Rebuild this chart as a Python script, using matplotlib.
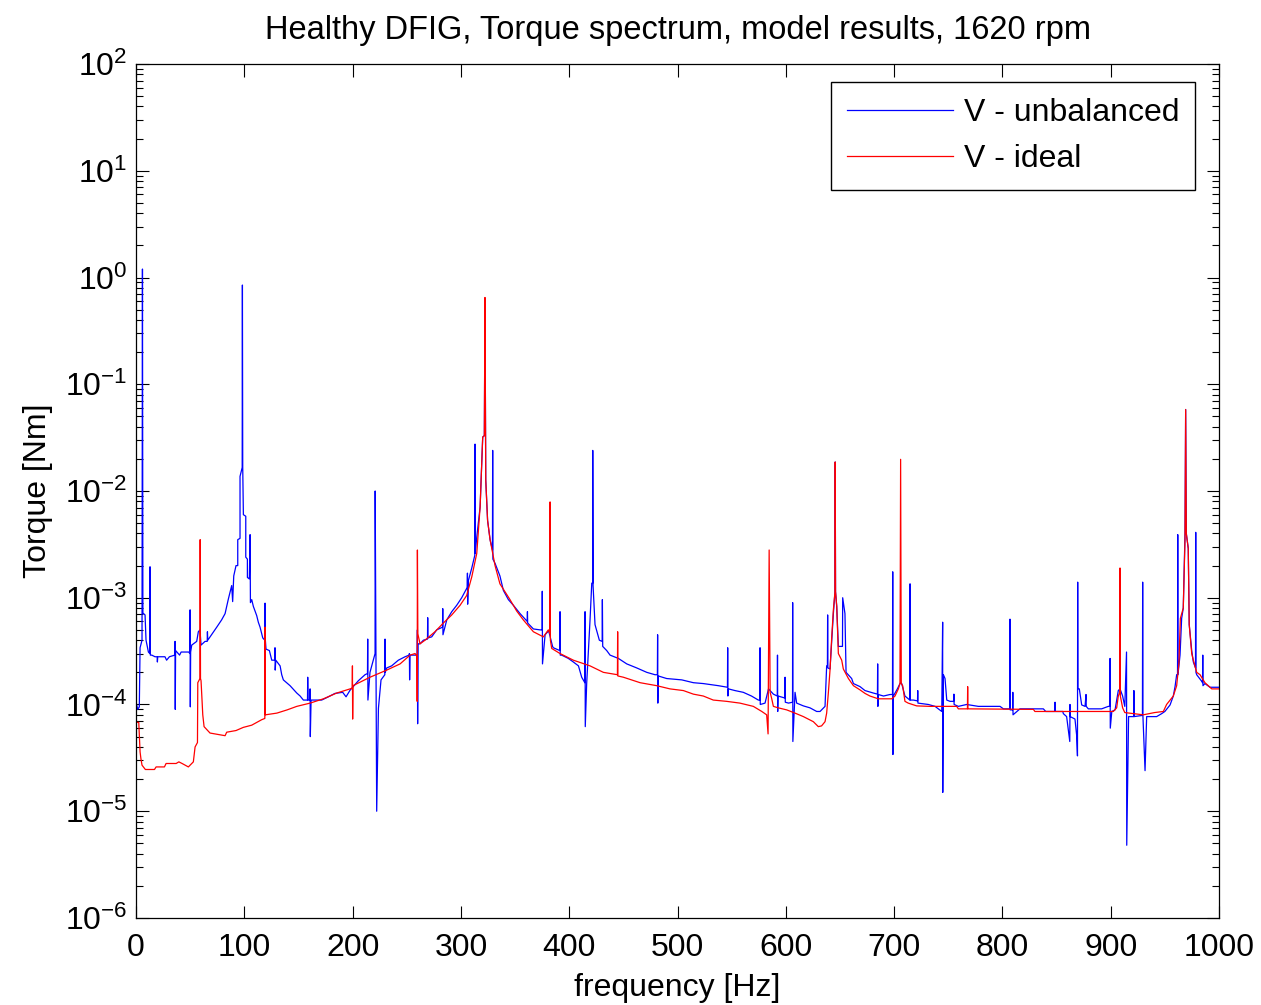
import matplotlib
matplotlib.use("Agg")
import matplotlib.pyplot as plt
from matplotlib.ticker import FixedLocator, NullFormatter

plt.rcParams['font.family'] = ['Liberation Sans', 'DejaVu Sans']
plt.rcParams['mathtext.fontset'] = 'custom'
plt.rcParams['mathtext.rm'] = 'Liberation Sans'
plt.rcParams['mathtext.it'] = 'Liberation Sans'

# ------------------------------------------------------------
# Spectrum: (frequency [Hz], torque [Nm])
# ------------------------------------------------------------
unbal_0_170 = [
    (0, 1.05e-4), (1.5, 9.0e-5), (3.0, 9.5e-5), (3.7, 3.4e-4), (5.5, 4.0e-4),
    (5.9, 1.2), (6.3, 7.2e-4), (8.3, 6.9e-4), (9.2, 4.0e-4), (11.4, 3.1e-4),
    (12.7, 3.0e-4), (12.9, 1.95e-3), (13.2, 2.9e-4), (14.5, 2.9e-4), (17.5, 2.8e-4),
    (19.5, 2.8e-4), (19.7, 2.5e-4), (20.0, 2.8e-4), (26.7, 2.8e-4), (28.2, 2.6e-4),
    (30.8, 2.8e-4), (35.8, 2.9e-4), (36.0, 3.9e-4), (36.2, 9.0e-5), (36.5, 3.2e-4),
    (40.2, 2.9e-4), (41.6, 3.1e-4), (48.6, 3.1e-4), (49.7, 3.0e-4), (49.9, 7.7e-4),
    (50.1, 9.5e-5), (50.4, 3.1e-4), (51.4, 3.6e-4), (56.0, 3.9e-4), (57.5, 4.8e-4),
    (59.0, 5.0e-4), (60.0, 3.6e-4), (63.7, 3.9e-4), (65.7, 3.9e-4), (65.9, 4.8e-4),
    (66.2, 4.0e-4), (74.5, 5.3e-4), (79.0, 6.2e-4), (82.2, 7.1e-4), (83.7, 8.3e-4),
    (85.2, 9.7e-4), (86.8, 1.13e-3), (88.3, 1.3e-3), (89.2, 9.2e-4), (90.2, 1.6e-3),
    (92.3, 2.0e-3), (93.9, 2.0e-3), (93.9, 3.5e-3), (96.0, 3.6e-3), (96.0, 1.37e-2),
    (98.0, 1.66e-2), (98.2, 0.85), (98.5, 1.66e-2), (99.1, 6.0e-3), (101.3, 5.8e-3),
    (101.3, 2.4e-3), (102.8, 2.3e-3), (102.8, 1.55e-3), (104.6, 1.5e-3), (105.3, 3.9e-3),
    (105.6, 9.0e-4), (106.8, 9.6e-4), (108.3, 8.3e-4), (111.4, 6.8e-4), (112.9, 5.9e-4),
    (114.5, 5.3e-4), (117.0, 4.2e-4), (118.9, 4.0e-4), (119.1, 8.9e-4), (119.4, 4.0e-4),
    (120.0, 3.3e-4), (123.1, 3.2e-4), (125.3, 2.6e-4), (128.1, 2.6e-4), (128.3, 3.4e-4),
    (128.5, 2.1e-4), (129.0, 2.6e-4), (133.0, 2.3e-4), (134.5, 1.9e-4), (136.0, 1.7e-4),
    (142.2, 1.5e-4), (148.4, 1.28e-4), (151.5, 1.2e-4), (154.5, 1.1e-4), (158.3, 1.1e-4),
    (158.5, 1.8e-4), (158.8, 1.1e-4), (160.5, 1.1e-4), (160.7, 1.4e-4), (160.9, 5.0e-5),
    (161.6, 1.1e-4), (171.4, 1.1e-4),
]
unbal_170_430 = [
    (177.6, 1.18e-4), (183.7, 1.27e-4), (190.8, 1.3e-4), (193.9, 1.18e-4), (197.6, 1.36e-4),
    (205.3, 1.67e-4), (211.4, 1.9e-4), (213.7, 1.95e-4), (213.9, 4.1e-4), (214.1, 1.1e-4),
    (216.0, 2.0e-4), (219.1, 2.6e-4), (220.7, 3.0e-4), (220.8, 1.0e-2), (222.2, 1.0e-5),
    (223.8, 9.2e-5), (226.2, 1.7e-4), (229.7, 1.9e-4), (229.9, 4.1e-4), (230.1, 2.0e-4),
    (231.5, 2.2e-4), (236.0, 2.3e-4), (242.2, 2.6e-4), (248.4, 2.8e-4), (252.2, 2.9e-4),
    (252.4, 3.0e-4), (252.6, 1.7e-4), (253.0, 2.9e-4), (259.6, 2.9e-4), (259.8, 5.0e-4),
    (260.0, 6.6e-5), (260.4, 3.7e-4), (262.2, 3.7e-4), (265.3, 4.0e-4), (269.1, 4.1e-4),
    (269.3, 6.5e-4), (269.5, 4.2e-4), (273.0, 4.3e-4), (277.6, 5.0e-4), (283.0, 5.3e-4),
    (283.2, 7.9e-4), (283.4, 4.5e-4), (286.9, 6.2e-4), (291.5, 7.4e-4), (296.1, 8.5e-4),
    (300.7, 1.0e-3), (305.8, 1.25e-3), (306.0, 1.7e-3), (306.2, 8.7e-4), (306.9, 1.45e-3),
    (310.0, 1.9e-3), (312.8, 2.5e-3), (313.0, 2.75e-2), (313.2, 2.6e-3), (314.6, 3.7e-3),
    (317.7, 7.1e-3), (320.1, 3.2e-2), (321.6, 3.3e-2), (322.2, 0.6), (322.9, 1.27e-2),
    (324.6, 5.3e-3), (326.9, 3.5e-3), (329.1, 2.8e-3), (329.3, 2.4e-2), (329.5, 2.3e-3),
    (331.5, 2.1e-3), (336.0, 1.6e-3), (339.2, 1.17e-3), (343.8, 9.6e-4), (348.4, 8.5e-4),
    (354.6, 7.1e-4), (361.2, 6.0e-4), (361.4, 7.4e-4), (361.6, 5.8e-4), (366.9, 5.1e-4),
    (373.0, 5.0e-4), (375.0, 5.0e-4), (375.1, 1.15e-3), (375.3, 2.4e-4), (377.7, 4.5e-4),
    (381.0, 4.9e-4), (384.6, 3.5e-4), (385.3, 3.4e-4), (391.3, 3.2e-4), (391.5, 7.4e-4),
    (391.7, 2.9e-4), (393.0, 2.9e-4), (399.2, 2.7e-4), (403.8, 2.5e-4), (408.5, 2.3e-4),
    (411.5, 1.8e-4), (414.4, 1.6e-4), (414.6, 7.4e-4), (414.8, 6.2e-5), (416.1, 1.57e-4),
    (419.2, 6.2e-4), (420.8, 1.37e-3), (421.7, 1.37e-3), (421.7, 2.4e-2), (422.0, 1.3e-3),
    (423.8, 5.6e-4), (427.8, 4.0e-4),
]
unbal_430_700 = [
    (430.4, 3.9e-4), (430.6, 9.6e-4), (430.9, 3.5e-4), (434.6, 3.2e-4), (437.7, 2.9e-4),
    (445.4, 2.7e-4), (453.1, 2.4e-4), (462.3, 2.2e-4), (471.6, 2.0e-4), (479.2, 1.9e-4),
    (481.4, 1.9e-4), (481.6, 4.5e-4), (481.8, 1.03e-4), (482.2, 1.85e-4), (490.0, 1.75e-4),
    (503.9, 1.7e-4), (514.6, 1.6e-4), (523.8, 1.57e-4), (537.7, 1.5e-4), (546.1, 1.45e-4),
    (546.3, 3.4e-4), (546.5, 1.2e-4), (547.0, 1.4e-4), (553.0, 1.35e-4), (560.7, 1.3e-4),
    (568.3, 1.2e-4), (574.6, 1.1e-4), (576.0, 1.1e-4), (576.2, 3.4e-4), (576.4, 1.0e-4),
    (580.8, 1.03e-4), (584.0, 1.4e-4), (588.5, 1.25e-4), (592.1, 1.2e-4), (592.3, 2.9e-4),
    (592.5, 8.6e-5), (592.8, 1.2e-4), (599.1, 1.15e-4), (599.3, 1.8e-4), (599.5, 1.05e-4),
    (602.5, 1.03e-4), (606.2, 1.05e-4), (606.3, 9.0e-4), (606.5, 4.5e-5), (608.5, 1.3e-4),
    (610.0, 1.03e-4), (616.2, 9.7e-5), (622.3, 9.3e-5), (628.5, 8.6e-5), (631.6, 8.6e-5),
    (636.2, 9.6e-5), (637.7, 2.3e-4), (638.4, 2.3e-4), (638.6, 6.9e-4), (638.8, 2.2e-4),
    (640.8, 2.15e-4), (643.9, 7.1e-4), (645.4, 1.14e-3), (645.6, 1.87e-2), (645.9, 1.14e-3),
    (647.0, 8.3e-4), (648.5, 3.5e-4), (652.3, 3.5e-4), (652.5, 1.0e-3), (654.6, 7.1e-4),
    (655.6, 2.0e-4), (660.8, 1.75e-4), (662.4, 1.57e-4), (668.5, 1.47e-4), (673.1, 1.35e-4),
    (680.8, 1.28e-4), (684.6, 1.25e-4), (684.8, 2.4e-4), (685.0, 9.6e-5), (685.3, 1.24e-4),
    (690.2, 1.2e-4), (696.2, 1.24e-4), (698.5, 1.24e-4), (698.7, 1.75e-3), (698.9, 3.4e-5),
    (699.3, 1.2e-4),
]
unbal_700_1000 = [
    (703.0, 1.4e-4), (705.4, 1.57e-4), (706.0, 1.6e-4), (707.0, 1.57e-4), (710.0, 1.2e-4),
    (713.0, 1.13e-4), (714.5, 1.1e-4), (714.7, 1.35e-3), (714.9, 1.1e-4), (717.8, 1.1e-4),
    (721.6, 1.08e-4), (721.8, 1.35e-4), (722.0, 1.03e-4), (731.6, 1.0e-4), (737.8, 9.6e-5),
    (744.0, 8.6e-5), (744.8, 5.9e-4), (744.9, 1.5e-5), (745.5, 1.9e-4), (747.0, 1.75e-4),
    (748.6, 1.1e-4), (751.6, 1.07e-4), (755.0, 1.07e-4), (755.2, 1.25e-4), (755.4, 1.0e-4),
    (759.3, 9.6e-5), (767.0, 1.0e-4), (777.8, 9.6e-5), (797.8, 9.6e-5), (800.9, 9.1e-5),
    (806.8, 9.1e-5), (807.0, 6.3e-4), (807.2, 8.9e-5), (809.4, 8.9e-5), (809.6, 1.3e-4),
    (809.8, 8.0e-5), (816.2, 9.1e-5), (825.5, 9.1e-5), (837.8, 9.1e-5), (840.0, 8.6e-5),
    (848.4, 8.6e-5), (848.6, 1.05e-4), (848.8, 8.6e-5), (855.7, 8.6e-5), (856.3, 8.2e-5),
    (859.3, 7.7e-5), (862.2, 4.5e-5), (862.4, 1.0e-4), (862.6, 7.7e-5), (867.0, 7.3e-5),
    (868.5, 5.2e-5), (869.3, 3.3e-5), (869.5, 1.4e-3), (869.7, 1.4e-4), (871.0, 1.4e-4),
    (873.2, 9.9e-5), (876.3, 9.6e-5), (877.2, 1.24e-4), (877.4, 9.6e-5), (879.3, 9.1e-5),
    (891.6, 9.1e-5), (897.8, 9.6e-5), (899.2, 9.6e-5), (899.4, 2.7e-4), (899.6, 6.0e-5),
    (901.0, 8.6e-5), (904.0, 8.9e-5), (907.0, 1.35e-4), (908.6, 1.4e-4), (911.0, 1.2e-4),
    (913.0, 9.6e-5), (914.6, 3.1e-4), (914.8, 4.8e-6), (916.5, 7.7e-5), (921.2, 7.7e-5),
    (921.4, 1.35e-4), (921.6, 7.7e-5), (929.3, 7.9e-5), (929.5, 1.4e-3), (929.7, 8.0e-5),
    (931.7, 2.4e-5), (933.2, 7.7e-5), (942.4, 7.7e-5), (947.0, 8.2e-5), (950.0, 8.6e-5),
    (954.8, 9.9e-5), (957.8, 1.2e-4), (959.4, 1.47e-4), (960.9, 1.9e-4), (961.7, 1.9e-4),
    (961.9, 3.9e-3), (962.1, 1.9e-4), (964.0, 2.9e-4), (965.5, 6.4e-4), (967.0, 8.0e-4),
    (968.6, 4.0e-3), (969.2, 5.8e-2), (969.8, 4.0e-3), (971.6, 2.9e-3), (972.5, 5.6e-4),
    (974.8, 3.2e-4), (976.3, 2.5e-4), (978.3, 2.2e-4), (978.5, 4.1e-3), (978.7, 2.0e-4),
    (979.4, 1.9e-4), (984.0, 1.65e-4), (984.8, 1.6e-4), (985.0, 2.9e-4), (985.2, 1.5e-4),
    (987.0, 1.57e-4), (991.7, 1.45e-4), (1000.0, 1.45e-4),
]

ideal_0_200 = [
    (0, 3.5e-5), (0.3, 6.8e-5), (2.5, 6.8e-5), (3.3, 4.5e-5), (3.7, 3.6e-5),
    (4.5, 3.1e-5), (5.5, 2.7e-5), (8.6, 2.46e-5), (17.0, 2.46e-5), (18.5, 2.6e-5),
    (26.2, 2.6e-5), (27.7, 2.8e-5), (37.0, 2.8e-5), (39.5, 2.9e-5), (42.5, 2.8e-5),
    (48.3, 2.6e-5), (52.9, 2.9e-5), (54.5, 4.0e-5), (56.7, 4.4e-5), (57.0, 1.6e-4),
    (59.0, 1.75e-4), (59.2, 3.5e-3), (59.5, 1.75e-4), (60.0, 1.67e-4), (61.6, 8.0e-5),
    (62.8, 6.2e-5), (68.3, 5.4e-5), (82.2, 5.1e-5), (83.7, 5.5e-5), (92.3, 5.7e-5),
    (99.0, 6.1e-5), (106.8, 6.4e-5), (116.0, 7.2e-5), (118.9, 7.4e-5), (119.1, 5.3e-4),
    (119.4, 8.0e-5), (130.0, 8.3e-5), (139.5, 8.9e-5), (148.4, 9.6e-5), (160.7, 1.03e-4),
    (173.0, 1.13e-4), (185.3, 1.28e-4), (199.6, 1.42e-4), (199.8, 2.3e-4), (200.0, 7.3e-5),
]
ideal_200_450 = [
    (200.3, 1.5e-4), (216.0, 1.8e-4), (231.5, 2.1e-4), (243.8, 2.4e-4), (253.0, 2.9e-4),
    (257.6, 3.0e-4), (259.4, 2.85e-4), (259.6, 1.07e-4), (259.8, 2.8e-3), (260.2, 4.6e-4),
    (262.2, 3.7e-4), (266.8, 4.0e-4), (276.0, 4.8e-4), (283.8, 5.8e-4), (291.5, 6.9e-4),
    (299.2, 8.5e-4), (305.3, 1.05e-3), (310.0, 1.57e-3), (314.6, 2.6e-3), (317.7, 7.1e-3),
    (320.1, 3.2e-2), (321.6, 3.3e-2), (322.2, 0.65), (322.9, 1.27e-2), (324.6, 5.3e-3),
    (326.9, 3.5e-3), (331.5, 2.0e-3), (336.0, 1.35e-3), (339.2, 1.2e-3), (345.3, 9.6e-4),
    (351.5, 7.5e-4), (357.6, 6.2e-4), (366.9, 4.8e-4), (376.1, 4.3e-4), (380.7, 5.0e-4),
    (382.1, 4.6e-4), (382.3, 7.9e-3), (382.6, 4.0e-4), (383.8, 3.35e-4), (391.5, 3.0e-4),
    (403.8, 2.6e-4), (419.2, 2.3e-4), (431.5, 2.0e-4), (444.5, 1.9e-4), (444.7, 4.8e-4),
    (444.9, 1.85e-4),
]
ideal_450_700 = [
    (450.0, 1.8e-4), (465.4, 1.6e-4), (480.8, 1.5e-4), (493.0, 1.4e-4), (505.4, 1.35e-4),
    (514.6, 1.25e-4), (523.8, 1.2e-4), (533.0, 1.1e-4), (545.3, 1.07e-4), (557.6, 1.03e-4),
    (570.0, 9.6e-5), (577.8, 8.6e-5), (582.3, 8.0e-5), (583.6, 5.3e-5), (584.6, 2.8e-3),
    (585.5, 1.3e-4), (587.0, 1.13e-4), (588.5, 9.6e-5), (593.0, 9.3e-5), (600.8, 8.9e-5),
    (608.5, 8.3e-5), (616.2, 7.7e-5), (625.4, 6.9e-5), (630.0, 6.2e-5), (633.0, 6.3e-5),
    (636.2, 6.9e-5), (637.7, 8.3e-5), (639.3, 1.3e-4), (640.8, 2.1e-4), (642.4, 4.3e-4),
    (643.9, 7.7e-4), (645.4, 1.14e-3), (645.6, 1.87e-2), (645.9, 1.14e-3), (647.0, 8.3e-4),
    (648.5, 3.0e-4), (651.6, 2.6e-4), (653.1, 2.15e-4), (657.8, 1.75e-4), (662.4, 1.5e-4),
    (668.5, 1.37e-4), (673.1, 1.27e-4), (677.7, 1.2e-4), (685.4, 1.13e-4), (697.8, 1.13e-4),
]
ideal_700_1000 = [
    (700.8, 1.2e-4), (703.9, 1.4e-4), (705.4, 1.57e-4), (706.0, 1.98e-2), (706.6, 1.57e-4),
    (707.9, 1.5e-4), (710.0, 1.07e-4), (713.0, 1.03e-4), (720.8, 9.7e-5), (733.1, 9.6e-5),
    (757.8, 9.6e-5), (759.3, 9.1e-5), (767.7, 9.1e-5), (767.9, 1.47e-4), (768.1, 9.1e-5),
    (828.6, 9.0e-5), (830.0, 8.6e-5), (902.4, 8.6e-5), (905.5, 9.3e-5), (907.0, 1.2e-4),
    (908.4, 1.3e-4), (908.6, 1.9e-3), (908.9, 1.2e-4), (911.0, 9.3e-5), (913.0, 8.4e-5),
    (930.0, 8.0e-5), (940.5, 8.4e-5), (948.6, 8.6e-5), (951.6, 1.0e-4), (957.8, 1.2e-4),
    (960.9, 1.5e-4), (963.0, 2.45e-4), (964.3, 6.4e-4), (967.0, 8.0e-4), (968.6, 3.5e-3),
    (969.2, 5.8e-2), (969.8, 4.0e-3), (971.6, 2.9e-3), (972.5, 5.6e-4), (974.8, 3.0e-4),
    (976.3, 2.6e-4), (979.4, 2.0e-4), (982.5, 1.9e-4), (987.0, 1.6e-4), (993.3, 1.4e-4),
    (1000.0, 1.4e-4),
]

x_ticks = [0, 100, 200, 300, 400, 500, 600, 700, 800, 900, 1000]
y_decades = [1e-6, 1e-5, 1e-4, 1e-3, 1e-2, 1e-1, 1e0, 1e1, 1e2]
y_minor = [m * d for d in y_decades[:-1] for m in range(2, 10)]

unbal = unbal_0_170 + unbal_170_430 + unbal_430_700 + unbal_700_1000
ideal = ideal_0_200 + ideal_200_450 + ideal_450_700 + ideal_700_1000
f_unbal, t_unbal = zip(*unbal)
f_ideal, t_ideal = zip(*ideal)

# ------------------------------------------------
# figure in the MATLAB look
# ------------------------------------------------
fig = plt.figure(figsize=(12.61, 10.05), dpi=100)
ax = fig.add_axes([0.1079, 0.0866, 0.8588, 0.8497])

ax.semilogy(f_unbal, t_unbal, color='#0000ff', lw=0.9, label='V - unbalanced')
ax.semilogy(f_ideal, t_ideal, color='#ff0000', lw=0.9, label='V - ideal')

ax.set_xlim(0, 1000)
ax.set_ylim(1e-6, 1e2)
ax.xaxis.set_major_locator(FixedLocator(x_ticks))
ax.yaxis.set_major_locator(FixedLocator(y_decades))
ax.yaxis.set_minor_locator(FixedLocator(y_minor))
ax.yaxis.set_minor_formatter(NullFormatter())
ax.tick_params(which='both', direction='in', top=True, right=True, labelsize=23, width=0.8)
ax.tick_params(which='major', length=9)
ax.tick_params(axis='x', which='major', pad=11)
ax.tick_params(axis='y', which='major', pad=6)
ax.tick_params(which='minor', length=5)
for s in ax.spines.values():
    s.set_linewidth(0.9)

ax.set_xlabel('frequency [Hz]', fontsize=23, labelpad=7)
ax.set_ylabel('Torque [Nm]', fontsize=23, labelpad=9)
ax.set_title('Healthy DFIG, Torque spectrum, model results, 1620 rpm', fontsize=23.5, pad=18)

leg = ax.legend(loc='upper right', bbox_to_anchor=(0.978, 0.979), borderaxespad=0,
                fontsize=23, handlelength=3.3, handletextpad=0.35, fancybox=False,
                framealpha=1, edgecolor='black', labelspacing=0.5, borderpad=0.5)
leg.get_frame().set_linewidth(1.0)

fig.savefig('out.png', dpi=100)
